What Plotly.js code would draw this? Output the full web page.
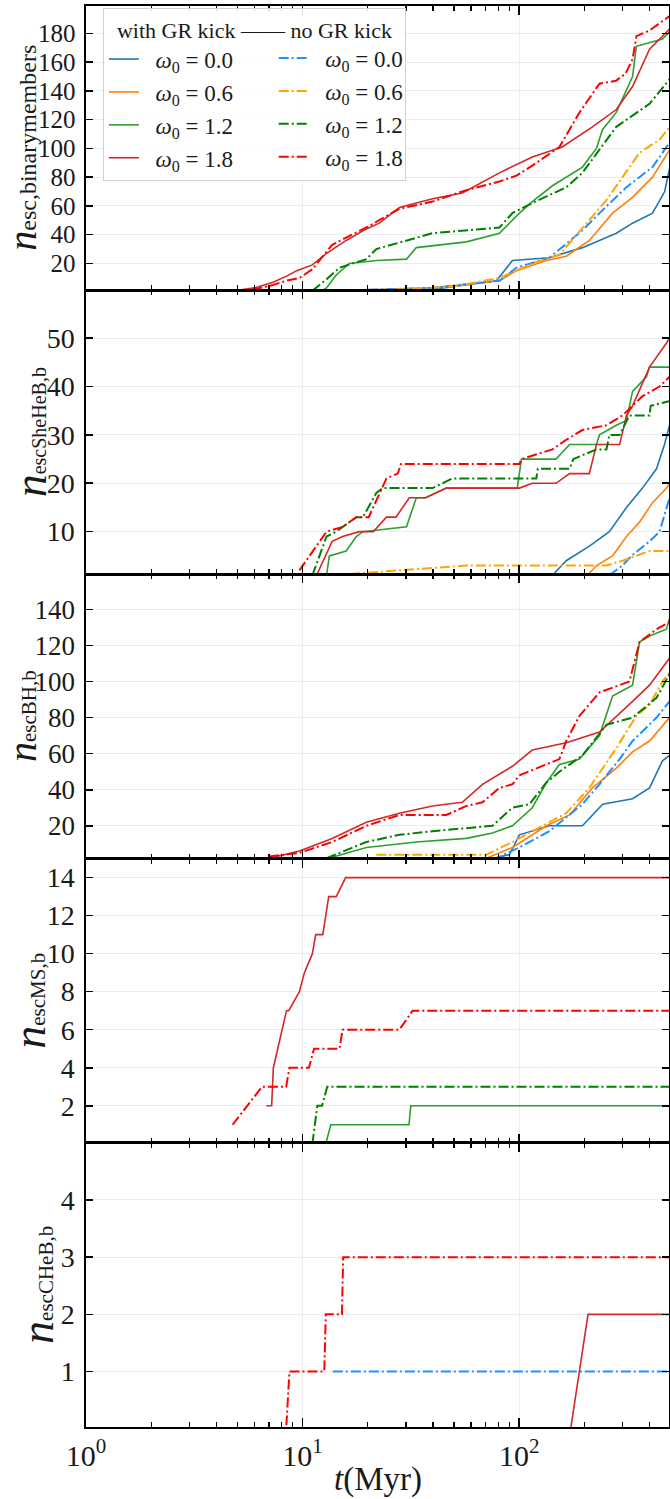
<!DOCTYPE html>
<html><head><meta charset="utf-8">
<script src="https://cdn.plot.ly/plotly-3.0.1.min.js"></script>
<style>html,body{margin:0;padding:0;background:#fff}</style>
</head><body><div id="chart" style="width:670px;height:1499px"></div>
<script>
// ---------- labels ----------
const omegaLabels = ['0.0', '0.6', '1.2', '1.8'];
const xTickVals = [1, 10, 100];
const xTickText = ['10<sup>0</sup>', '10<sup>1</sup>', '10<sup>2</sup>'];
const xTitle = '<i>t</i>(Myr)';
const ySubs = ['esc,binarymembers', 'escSheHeB,b', 'escBH,b', 'escMS,b', 'escCHeB,b'];
const yTicks = [
  [20, 40, 60, 80, 100, 120, 140, 160, 180],
  [10, 20, 30, 40, 50],
  [20, 40, 60, 80, 100, 120, 140],
  [2, 4, 6, 8, 10, 12, 14],
  [1, 2, 3, 4]
];

// ---------- panel 1: binary members ----------
const bin_gr00_t = [13.5, 39.8, 78.6, 93.1, 138, 196, 281, 334, 413, 470, 495];
const bin_gr00_n = [1, 2, 8, 22, 24, 31, 41, 48, 55, 70, 86];
const bin_gr06_t = [14, 40, 81.1, 97.2, 133.7, 165, 211, 270, 334, 413, 495];
const bin_gr06_n = [1, 3, 8, 15, 22, 25, 36, 55, 66, 80, 99];
const bin_gr12_t = [12.3, 12.9, 14.3, 16.45, 22, 30.2, 33.5, 57.1, 81.1, 100.3, 115, 142.5, 196, 227.5, 242.5, 281, 334, 348, 459, 495];
const bin_gr12_n = [1, 3, 12, 20, 22, 23, 31, 35, 41, 55, 63, 74, 87, 100, 113, 125, 150, 171, 176, 181];
const bin_gr18_t = [4.84, 6.0, 7.3, 8.4, 9.4, 11.1, 12.9, 15.9, 19.7, 22.6, 28, 39.8, 54.7, 81.1, 115, 158, 218, 281, 334, 400, 495];
const bin_gr18_n = [1, 3, 7, 11, 15, 19, 27, 36, 44, 48, 59, 65, 69, 83, 94, 101, 115, 127, 143, 169, 183];
const bin_no00_t = [13.7, 40, 81.1, 97.2, 138, 196, 235, 313, 413, 495];
const bin_no00_n = [1, 3, 8, 17, 24, 43, 55, 73, 87, 104];
const bin_no06_t = [21.9, 50, 81.1, 115, 153.5, 211, 253, 360, 445, 495];
const bin_no06_n = [1, 4, 10, 20, 26, 50, 64, 97, 106, 115];
const bin_no12_t = [11.1, 12.9, 14.8, 19.7, 21.9, 39.8, 81.1, 93.1, 115, 165, 196, 281, 400, 495];
const bin_no12_n = [1, 9, 17, 23, 30, 41, 45, 55, 62, 73, 83, 115, 131, 148];
const bin_no18_t = [4.84, 6.0, 7.3, 8.4, 9.7, 11.1, 13.7, 19.7, 28, 39.8, 57.1, 81.1, 97.2, 115, 153.5, 190, 218, 235, 280, 310, 334, 348, 400, 495];
const bin_no18_n = [1, 2, 5, 8, 10, 16, 33, 45, 58, 63, 71, 77, 81, 88, 101, 125, 138, 145, 147, 152, 162, 178, 182, 192];

// ---------- panel 2: SheHeB ----------
const she_gr00_t = [142.5, 165, 211, 261, 313, 371, 431, 469, 495];
const she_gr00_n = [1, 4, 7, 10, 15, 19, 23, 28, 32];
const she_gr06_t = [207, 227.5, 270, 313, 360, 413, 479, 495];
const she_gr06_n = [1, 3, 5, 9, 12, 16, 19, 20];
const she_gr12_t = [12.9, 13.3, 15.9, 17.7, 19, 30.2, 33.5, 37, 46.1, 98, 102.5, 148, 171, 227.5, 235, 281, 313, 334, 387, 400, 495];
const she_gr12_n = [1, 5, 6, 9, 10, 11, 17, 17, 19, 19, 25, 25, 28, 28, 30, 32, 33, 39, 42, 44, 44];
const she_gr18_t = [11.6, 13.7, 15.3, 18.3, 21.2, 24.4, 27, 31.1, 37, 46.1, 100.3, 115, 148, 171, 211, 227.5, 291, 313, 334, 400, 479, 495];
const she_gr18_n = [1, 8, 9, 10, 10, 13, 13, 17, 17, 19, 19, 20, 20, 22, 22, 28, 28, 34, 36, 44, 49, 50];
const she_no00_t = [261, 300, 330, 400, 445, 479, 495];
const she_no00_n = [1, 3, 5, 8, 10, 15, 17];
const she_no06_t = [13.7, 28, 57.1, 100.3, 253, 300, 400, 495];
const she_no06_n = [1, 2, 3, 3, 3, 4, 6, 6];
const she_no12_t = [11.1, 12.9, 14.3, 17.7, 19, 21.9, 23.4, 39.8, 49.2, 120, 122, 171, 178, 227.5, 253, 261, 291, 323, 400, 405, 495];
const she_no12_n = [1, 9, 10, 13, 13, 18, 19, 19, 21, 21, 23, 23, 25, 27, 27, 30, 30, 34, 34, 36, 37];
const she_no18_t = [9.67, 12.9, 15.3, 17.7, 20.2, 23.4, 24.4, 27.5, 28.5, 100.3, 102.5, 142.5, 165, 196, 253, 300, 371, 445, 495];
const she_no18_n = [2, 10, 11, 13, 13, 19, 21, 22, 24, 24, 25, 27, 29, 31, 32, 34, 38, 40, 42];

// ---------- panel 3: BH ----------
const bh_gr00_t = [70.6, 90.2, 100.3, 138, 196, 243, 334, 400, 459, 495];
const bh_gr00_n = [1, 4, 15, 20, 20, 32, 35, 41, 56, 59];
const bh_gr06_t = [70.6, 93.1, 133.7, 171, 218, 281, 334, 400, 495];
const bh_gr06_n = [2, 8, 20, 26, 41, 52, 61, 67, 80];
const bh_gr12_t = [12.35, 19.7, 33.5, 57.1, 75.3, 93.1, 115, 133.7, 153.5, 190, 235, 270, 334, 360, 413, 479, 495];
const bh_gr12_n = [1, 8, 11, 13, 16, 20, 30, 44, 54, 57, 70, 92, 98, 122, 126, 129, 135];
const bh_gr18_t = [6.5, 9.67, 13.7, 19.7, 28, 39.8, 54.7, 67.7, 93.1, 115, 165, 235, 334, 400, 495];
const bh_gr18_n = [1, 6, 13, 22, 27, 31, 33, 43, 53, 62, 66, 72, 89, 98, 113];
const bh_no00_t = [75.3, 100.3, 138, 196, 235, 291, 334, 431, 495];
const bh_no00_n = [1, 8, 17, 32, 43, 57, 67, 80, 89];
const bh_no06_t = [21.9, 70.6, 93.1, 165, 211, 281, 348, 400, 459, 495];
const bh_no06_n = [4, 4, 11, 27, 41, 63, 81, 87, 100, 105];
const bh_no12_t = [12.9, 19.7, 28, 39.8, 75.3, 93.1, 111.6, 133.7, 153.5, 196, 253, 334, 431, 495];
const bh_no12_n = [2, 11, 15, 17, 20, 30, 32, 44, 50, 59, 76, 80, 91, 104];
const bh_no18_t = [7.0, 9.67, 13.7, 19.7, 28, 46.1, 57.1, 67.7, 81.1, 93.1, 100.3, 153.5, 165, 190, 235, 323, 360, 400, 431, 495];
const bh_no18_n = [3, 5, 11, 20, 26, 26, 31, 33, 41, 43, 48, 57, 67, 81, 94, 100, 122, 126, 129, 133];

// ---------- panel 4: MS ----------
const ms_gr12_t = [12.8, 13.5, 31, 31.6, 495];
const ms_gr12_n = [0, 1, 1, 2, 2];
const ms_gr18_t = [6.8, 7.2, 7.33, 8.07, 8.43, 8.63, 9.67, 10.2, 11.1, 11.5, 12.4, 12.8, 13.2, 14.3, 15.8, 495];
const ms_gr18_n = [2, 2, 4, 6, 7, 7, 8, 9, 10, 11, 11, 12, 13, 13, 14, 14];
const ms_no12_t = [11.1, 11.7, 12.3, 13.0, 495];
const ms_no12_n = [0, 2, 2, 3, 3];
const ms_no18_t = [4.75, 6.5, 8.4, 8.7, 10.7, 11.3, 14.8, 15.3, 28, 32.2, 495];
const ms_no18_n = [1, 3, 3, 4, 4, 5, 5, 6, 6, 7, 7];

// ---------- panel 5: CHeB ----------
const cheb_gr18_t = [4.9, 173, 208, 495];
const cheb_gr18_n = [0, 0, 2, 2];
const cheb_no00_t = [13.8, 495];
const cheb_no00_n = [1, 1];
const cheb_no18_t = [4.9, 8.4, 8.7, 12.6, 12.8, 15.2, 15.4, 495];
const cheb_no18_n = [0, 0, 1, 1, 2, 2, 3, 3];

// ---------- styles ----------
const solidColors = ['#1f77b4', '#ff7f0e', '#2ca02c', '#d62728'];
const dashColors = ['#1e90ff', '#ffa500', '#008000', '#ff0000'];
const DASHDOT = '10px,3px,2px,3px';
const FONT = "'Liberation Serif', 'DejaVu Serif', serif";
const TXT = '#1a1a1a';
const PLOT_L = 86, PLOT_W = 583, PLOT_T = 6, PLOT_H = 1421;
// y-title placement / sizes (px) per panel
const yTitleCx = [22.6, 30, 22.6, 30, 38];
const yTitleN = [40, 46, 40, 46, 46];
const yTitleSub = [24, 20, 21, 21, 21];
const yTickSize = [25, 28, 27, 28, 28];

const panels = [
  {gr: [[bin_gr00_t, bin_gr00_n], [bin_gr06_t, bin_gr06_n], [bin_gr12_t, bin_gr12_n], [bin_gr18_t, bin_gr18_n]],
   no: [[bin_no00_t, bin_no00_n], [bin_no06_t, bin_no06_n], [bin_no12_t, bin_no12_n], [bin_no18_t, bin_no18_n]]},
  {gr: [[she_gr00_t, she_gr00_n], [she_gr06_t, she_gr06_n], [she_gr12_t, she_gr12_n], [she_gr18_t, she_gr18_n]],
   no: [[she_no00_t, she_no00_n], [she_no06_t, she_no06_n], [she_no12_t, she_no12_n], [she_no18_t, she_no18_n]]},
  {gr: [[bh_gr00_t, bh_gr00_n], [bh_gr06_t, bh_gr06_n], [bh_gr12_t, bh_gr12_n], [bh_gr18_t, bh_gr18_n]],
   no: [[bh_no00_t, bh_no00_n], [bh_no06_t, bh_no06_n], [bh_no12_t, bh_no12_n], [bh_no18_t, bh_no18_n]]},
  {gr: [null, null, [ms_gr12_t, ms_gr12_n], [ms_gr18_t, ms_gr18_n]],
   no: [null, null, [ms_no12_t, ms_no12_n], [ms_no18_t, ms_no18_n]]},
  {gr: [null, null, null, [cheb_gr18_t, cheb_gr18_n]],
   no: [[cheb_no00_t, cheb_no00_n], null, null, [cheb_no18_t, cheb_no18_n]]}
];
const yRanges = [[1.4, 199], [1.17, 59.9], [1.8, 159.4], [0.05, 15], [0.03, 5]];

const legendName = lab => '\u2002<i>ω</i><sub>0</sub>\u2005=\u2005' + lab;

const traces = [];
panels.forEach((p, k) => {
  const ax = k === 0 ? '' : String(k + 1);
  for (let i = 0; i < 4; i++) {
    if (p.gr[i]) traces.push({
      x: p.gr[i][0], y: p.gr[i][1], xaxis: 'x' + ax, yaxis: 'y' + ax,
      type: 'scatter', mode: 'lines', line: {color: solidColors[i], width: 1.6},
      name: legendName(omegaLabels[i]), legend: 'legend',
      showlegend: k === 0, legendrank: i
    });
  }
  for (let i = 0; i < 4; i++) {
    if (p.no[i]) traces.push({
      x: p.no[i][0], y: p.no[i][1], xaxis: 'x' + ax, yaxis: 'y' + ax,
      type: 'scatter', mode: 'lines', line: {color: dashColors[i], width: 2, dash: DASHDOT},
      name: legendName(omegaLabels[i]), legend: 'legend2',
      showlegend: k === 0, legendrank: i
    });
  }
});

const annotations = [];
for (let k = 0; k < 5; k++) {
  annotations.push({
    text: '<span style="font-size:' + yTitleN[k] + 'px"><i>n</i></span>' +
          '<span style="font-size:' + yTitleSub[k] + 'px">' + ySubs[k] + '</span>',
    xref: 'paper', yref: 'paper',
    x: (yTitleCx[k] - PLOT_L) / PLOT_W, y: 1 - (k + 0.5) * 0.2,
    xanchor: 'center', yanchor: 'middle', textangle: -90, showarrow: false,
    font: {family: FONT, size: yTitleN[k], color: TXT}
  });
}
annotations.push({
  text: xTitle, xref: 'paper', yref: 'paper',
  x: (378 - PLOT_L) / PLOT_W, y: -(1479 - (PLOT_T + PLOT_H)) / PLOT_H,
  xanchor: 'center', yanchor: 'middle', showarrow: false,
  font: {family: FONT, size: 33, color: TXT}
});

const layout = {
  width: 670, height: 1499,
  margin: {l: PLOT_L, r: 670 - PLOT_L - PLOT_W, t: PLOT_T, b: 1499 - PLOT_T - PLOT_H},
  paper_bgcolor: '#fff', plot_bgcolor: '#fff',
  font: {family: FONT, color: TXT, size: 26},
  showlegend: true,
  annotations: annotations,
  legend: {
    x: 0.029, y: 0.9986, xanchor: 'left', yanchor: 'top',
    bgcolor: 'rgba(255,255,255,0.85)', bordercolor: '#d0d0d0', borderwidth: 1,
    font: {family: FONT, size: 23, color: TXT},
    title: {text: '\u2002with GR kick —— no GR kick\u00a0\u00a0', font: {family: FONT, size: 22, color: TXT}},
    traceorder: 'normal', tracegroupgap: 0
  },
  legend2: {
    x: 0.322, y: 0.9986, xanchor: 'left', yanchor: 'top',
    bgcolor: 'rgba(0,0,0,0)', borderwidth: 0,
    font: {family: FONT, size: 23, color: TXT},
    title: {text: '\u00a0', font: {family: FONT, size: 22}},
    traceorder: 'normal', tracegroupgap: 0
  }
};

const minorVals = [2,3,4,5,6,7,8,9,20,30,40,50,60,70,80,90,200,300,400];
for (let k = 0; k < 5; k++) {
  const ax = k === 0 ? '' : String(k + 1);
  const top = 1 - k * 0.2, bot = 1 - (k + 1) * 0.2;
  const xa = {
    type: 'log', range: [0, 2.692], anchor: 'y' + ax,
    showline: true, linecolor: '#000', linewidth: 1.6, mirror: 'ticks',
    ticks: 'inside', ticklen: 9, tickwidth: 1.6, tickcolor: '#000',
    tickmode: 'array', tickvals: xTickVals, ticktext: xTickText,
    showticklabels: k === 4,
    showgrid: true, gridcolor: '#ececec', gridwidth: 1,
    zeroline: false,
    minor: {tickmode: 'array', tickvals: minorVals, ticks: 'inside', ticklen: 5, tickwidth: 1.3, tickcolor: '#000', showgrid: false},
    tickfont: {family: FONT, size: 30, color: TXT},
    ticklabelstandoff: 1
  };
  if (k > 0) xa.matches = 'x';
  layout['xaxis' + ax] = xa;
  layout['yaxis' + ax] = {
    domain: [bot, top], range: yRanges[k], anchor: 'x' + ax,
    showline: true, linecolor: '#000', linewidth: 1.6, mirror: 'ticks',
    ticks: 'inside', ticklen: 7, tickwidth: 1.6, tickcolor: '#000',
    tickmode: 'array', tickvals: yTicks[k],
    showgrid: true, gridcolor: '#ececec', gridwidth: 1, zeroline: false,
    tickfont: {family: FONT, size: yTickSize[k], color: TXT},
    ticklabelstandoff: 4
  };
}

Plotly.newPlot('chart', traces, layout, {displayModeBar: false, staticPlot: true});
</script>
</body></html>
